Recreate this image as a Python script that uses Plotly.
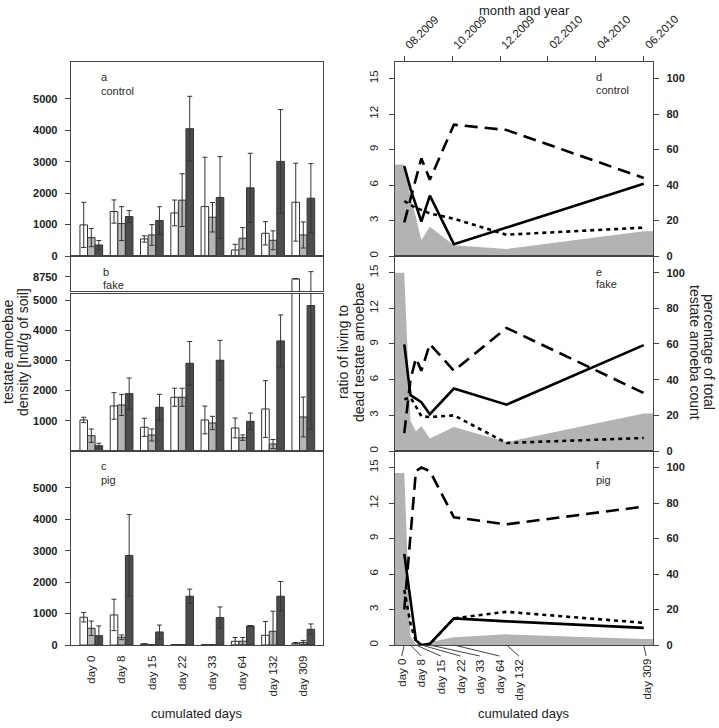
import numpy as np
import plotly.graph_objects as go

W, H = 719, 728
FONT = "Liberation Sans, Arial, sans-serif"

# ---------------- data ----------------
day_labels = ["day 0", "day 8", "day 15", "day 22", "day 33", "day 64", "day 132", "day 309"]
days = [0, 8, 15, 22, 33, 64, 132, 309]
month_labels = ["08.2009", "10.2009", "12.2009", "02.2010", "04.2010", "06.2010"]

# panel a: control  (white / light grey / dark grey bars, with SD)
a_white = [990, 1415, 543, 1372, 1574, 191, 723, 1713]
a_white_err = [720, 370, 100, 410, 1570, 180, 370, 1240]
a_grey = [585, 1032, 670, 1777, 1234, 564, 500, 670]
a_grey_err = [290, 540, 330, 840, 470, 340, 300, 415]
a_dark = [351, 1255, 1128, 4053, 1862, 2170, 3011, 1840]
a_dark_err = [140, 190, 440, 1030, 1300, 1100, 1650, 1100]

# panel b: fake
b_white = [1028, 1492, 785, 1779, 1028, 762, 1392, 8680]
b_white_err = [90, 440, 300, 300, 460, 330, 940, 0]
b_grey = [508, 1525, 530, 1779, 928, 442, 232, 1127]
b_grey_err = [220, 350, 200, 300, 220, 90, 150, 660]
b_dark = [177, 1900, 1448, 2906, 3005, 983, 3646, 4818]
b_dark_err = [80, 520, 430, 720, 660, 275, 860, 4100]

# panel c: pig
c_white = [883, 957, 32, 10, 8, 117, 309, 60]
c_white_err = [150, 500, 0, 0, 0, 120, 440, 20]
c_grey = [532, 245, 8, 10, 8, 120, 436, 85]
c_grey_err = [230, 75, 0, 0, 0, 120, 640, 60]
c_dark = [298, 2851, 415, 1553, 872, 606, 1553, 500]
c_dark_err = [310, 1300, 220, 225, 340, 15, 470, 170]

# right panels: ratio (solid, left axis), percentages (dashed, dotted, grey area, right axis)
d_ratio = [7.6, 5.7, 4.3, 2.9, 5.1, 1.0, 2.4, 6.1]
d_dash = [19, 32, 44, 55, 43, 74, 71, 44]
d_dot = [31, 29, 27, 26, 24, 21, 12, 16]
d_area = [51.5, 33, 22, 9, 16.5, 6, 4, 14]

e_ratio = [8.96, 4.7, 4.4, 4.1, 3.1, 5.25, 3.9, 8.9]
e_dash = [10, 40, 52, 45, 60, 45, 69, 32.5]
e_dot = [29, 30, 25, 19.5, 19, 20, 4.5, 7.3]
e_area = [100, 17, 11, 14, 7, 13.5, 5, 21]

f_ratio = [7.7, 3.6, 0.4, 0.0, 0.1, 2.25, 2.0, 1.45]
f_dash = [20, 62, 98, 100, 98, 72, 68, 78]
f_dot = [31, 12, 2, 0, 0.5, 15, 18.7, 12.5]
f_area = [97, 5, 0.5, 0, 1.5, 4.3, 6, 3.4]

# ---------------- helpers ----------------
def fx(p):
    return p / W

def fy(p):
    return 1 - p / H

LINE = "#444444"
TXT = "#222222"
BAR_COLORS = ["#ffffff", "#b5b5b5", "#4d4d4d"]

fig = go.Figure()

XR_L = [-0.68, 7.65]
XR_R = [-12.36, 321.36]
YMAX_L = 6175

left_panels = [
    ("x", "y", a_white, a_white_err, a_grey, a_grey_err, a_dark, a_dark_err),
    ("x2", "y2", b_white, b_white_err, b_grey, b_grey_err, b_dark, b_dark_err),
    ("x3", "y3", b_white, b_white_err, b_grey, b_grey_err, b_dark, b_dark_err),
    ("x4", "y4", c_white, c_white_err, c_grey, c_grey_err, c_dark, c_dark_err),
]
for xa, ya, w, we, g, ge, d, de in left_panels:
    for vals, errs, col in ((w, we, BAR_COLORS[0]), (g, ge, BAR_COLORS[1]), (d, de, BAR_COLORS[2])):
        fig.add_trace(go.Bar(
            x=day_labels, y=vals, xaxis=xa, yaxis=ya,
            marker=dict(color=col, line=dict(color="#333333", width=1)),
            error_y=dict(type="data", array=errs, visible=True, color="#333333",
                         thickness=1, width=2.5),
            showlegend=False, hoverinfo="skip",
        ))

right_panels = [
    ("x5", "y5", "y6", d_ratio, d_dash, d_dot, d_area),
    ("x6", "y7", "y8", e_ratio, e_dash, e_dot, e_area),
    ("x7", "y9", "y10", f_ratio, f_dash, f_dot, f_area),
]
for xa, yp, yr, ratio, dash, dot, area in right_panels:
    fig.add_trace(go.Scatter(
        x=[XR_R[0]] + days + [XR_R[1]], y=[area[0]] + area + [area[-1]],
        xaxis=xa, yaxis=yp, mode="lines", fill="tozeroy",
        fillcolor="#b3b3b3", line=dict(width=0, color="#b3b3b3"),
        showlegend=False, hoverinfo="skip"))
    fig.add_trace(go.Scatter(
        x=days, y=dot, xaxis=xa, yaxis=yp, mode="lines",
        line=dict(color="black", width=2.6, dash="4px,4px"),
        showlegend=False, hoverinfo="skip"))
    fig.add_trace(go.Scatter(
        x=days, y=dash, xaxis=xa, yaxis=yp, mode="lines",
        line=dict(color="black", width=2.6, dash="13px,7px"),
        showlegend=False, hoverinfo="skip"))
    fig.add_trace(go.Scatter(
        x=days, y=ratio, xaxis=xa, yaxis=yr, mode="lines",
        line=dict(color="black", width=2.6),
        showlegend=False, hoverinfo="skip"))

# dummy trace so the top date axis is drawn
fig.add_trace(go.Scatter(x=days, y=[None] * len(days), xaxis="x8", yaxis="y5",
                         mode="lines", showlegend=False, hoverinfo="skip"))

# ---------------- axes ----------------
common = dict(showline=True, linecolor=LINE, linewidth=1, mirror=True,
              showgrid=False, zeroline=False, ticks="outside", ticklen=5,
              tickcolor=LINE, tickwidth=1)
tickfont_b = dict(family=FONT, size=11, color=TXT, weight="bold")

LX = [fx(70.7), fx(323)]
RX = [fx(394.7), fx(653.3)]
rows = {"a": (62, 256), "bu": (256, 291), "bl": (294, 451), "c": (451, 645)}

def ydom(top, bot):
    return [fy(bot), fy(top)]

layout = dict(
    width=W, height=H, margin=dict(l=0, r=0, t=0, b=0, autoexpand=False),
    paper_bgcolor="white", plot_bgcolor="rgba(0,0,0,0)",
    barmode="group", bargap=0.25, bargroupgap=0, showlegend=False,
    font=dict(family=FONT, color=TXT),
)

xcat = dict(type="category", categoryorder="array", categoryarray=day_labels, range=XR_L)
layout["xaxis"] = dict(common, **xcat, domain=LX, anchor="y", showticklabels=False, ticks="")
layout["xaxis2"] = dict(common, **xcat, domain=LX, anchor="y2", showticklabels=False, ticks="")
layout["xaxis3"] = dict(common, **xcat, domain=LX, anchor="y3", showticklabels=False, ticks="")
layout["xaxis4"] = dict(common, **xcat, domain=LX, anchor="y4", showticklabels=True,
                        tickangle=-90, ticklen=5, tickcolor="rgba(0,0,0,0)",
                        tickfont=dict(family=FONT, size=11.5, color=TXT))

ticks_k = [0, 1000, 2000, 3000, 4000, 5000]
ystd = dict(common, ticklabelstandoff=5, tickfont=tickfont_b)
layout["yaxis"] = dict(ystd, domain=ydom(*rows["a"]), anchor="x", range=[0, YMAX_L], tickvals=ticks_k)
layout["yaxis2"] = dict(ystd, domain=ydom(*rows["bu"]), anchor="x2", range=[8276, 9436], tickvals=[8750])
layout["yaxis3"] = dict(ystd, domain=ydom(*rows["bl"]), anchor="x3", range=[0, 5199], tickvals=ticks_k[1:])
layout["yaxis4"] = dict(ystd, domain=ydom(*rows["c"]), anchor="x4", range=[0, YMAX_L], tickvals=ticks_k)

rrows = [(62, 256), (256, 451), (451, 645)]
ratio_ticks = [0, 3, 6, 9, 12, 15]
pct_ticks = [0, 20, 40, 60, 80, 100]
for i, (xa, yp, yr) in enumerate([("xaxis5", "yaxis5", "yaxis6"),
                                  ("xaxis6", "yaxis7", "yaxis8"),
                                  ("xaxis7", "yaxis9", "yaxis10")]):
    dom = ydom(*rrows[i])
    xn = xa.replace("axis", "")
    ypn = yp.replace("axis", "")
    layout[xa] = dict(common, domain=RX, anchor=ypn, range=XR_R, showticklabels=False, ticks="")
    layout[yp] = dict(common, domain=dom, anchor=xn, side="right", range=[0, 16.4 * 100 / 15],
                      tickvals=pct_ticks, tickfont=tickfont_b, ticklabelstandoff=5)
    layout[yr] = dict(common, overlaying=ypn, anchor=xn, side="left", range=[0, 16.4],
                      tickvals=ratio_ticks, tickangle=-90, ticklabelstandoff=6,
                      tickfont=dict(family=FONT, size=11.5, color=TXT))

month_pos = list(np.linspace(days[0], days[-1], len(month_labels)))
layout["xaxis8"] = dict(showline=False, showgrid=False, zeroline=False, overlaying="x5",
                        anchor="y5", side="top", range=XR_R, tickvals=month_pos,
                        showticklabels=False, ticks="outside", ticklen=5, tickcolor=LINE)

fig.update_layout(**layout)

# ---------------- annotations ----------------
ann = []

def txt(x, y, s, size=11, xanchor="left", yanchor="middle", angle=0, color="#2a2a2a"):
    ann.append(dict(x=fx(x), y=fy(y), xref="paper", yref="paper", text=s, showarrow=False,
                    xanchor=xanchor, yanchor=yanchor, textangle=angle,
                    font=dict(family=FONT, size=size, color=color)))

for (x, y1, y2, l1, l2) in [(99, 77, 91, "a", "control"), (101, 272, 285, "b", "fake"),
                            (99, 466, 480, "c", "pig"), (594, 77, 90, "d", "control"),
                            (594, 272, 284, "e", "fake"), (594, 465, 480, "f", "pig")]:
    txt(x, y1, l1)
    txt(x, y2, l2)

TS = 14
txt(8, 352, "testate amoebae", size=TS, xanchor="center", angle=-90, color=TXT)
txt(23, 352, "density [Ind/g of soil]", size=TS, xanchor="center", angle=-90, color=TXT)
txt(343, 352, "ratio of living to", size=TS, xanchor="center", angle=-90, color=TXT)
txt(359, 352, "dead testate amoebae", size=TS, xanchor="center", angle=-90, color=TXT)
txt(709, 352, "percentage of total", size=TS, xanchor="center", angle=90, color=TXT)
txt(695, 352, "testate amoeba count", size=TS, xanchor="center", angle=90, color=TXT)
txt(197, 713, "cumulated days", size=13, xanchor="center", color=TXT)
txt(524, 713, "cumulated days", size=13, xanchor="center", color=TXT)
txt(524, 1, "month and year", size=13, xanchor="center", yanchor="top", color=TXT)

# top date labels (rotated)
for mp, ml in zip(month_pos, month_labels):
    ann.append(dict(x=mp, y=fy(54), xref="x5", yref="paper", text=ml, showarrow=False,
                    xanchor="left", yanchor="bottom", textangle=-45, xshift=-4,
                    font=dict(family=FONT, size=11.5, color=TXT)))

# bottom day labels with leader lines (panel f)
label_pos = [-3.3 + 25.2 * i for i in range(len(days) - 1)] + [days[-1] + 3]
shapes = []
for dval, lp, lab in zip(days, label_pos, day_labels):
    shapes.append(dict(type="line", xref="x7", yref="paper", x0=dval, x1=lp,
                       y0=fy(645), y1=fy(656), line=dict(color=LINE, width=1)))
    ann.append(dict(x=lp, y=fy(657), xref="x7", yref="paper", text=lab, showarrow=False,
                    xanchor="center", yanchor="top", textangle=-90,
                    font=dict(family=FONT, size=11.5, color=TXT)))

fig.update_layout(annotations=ann, shapes=shapes)

fig.write_html("out.html")
